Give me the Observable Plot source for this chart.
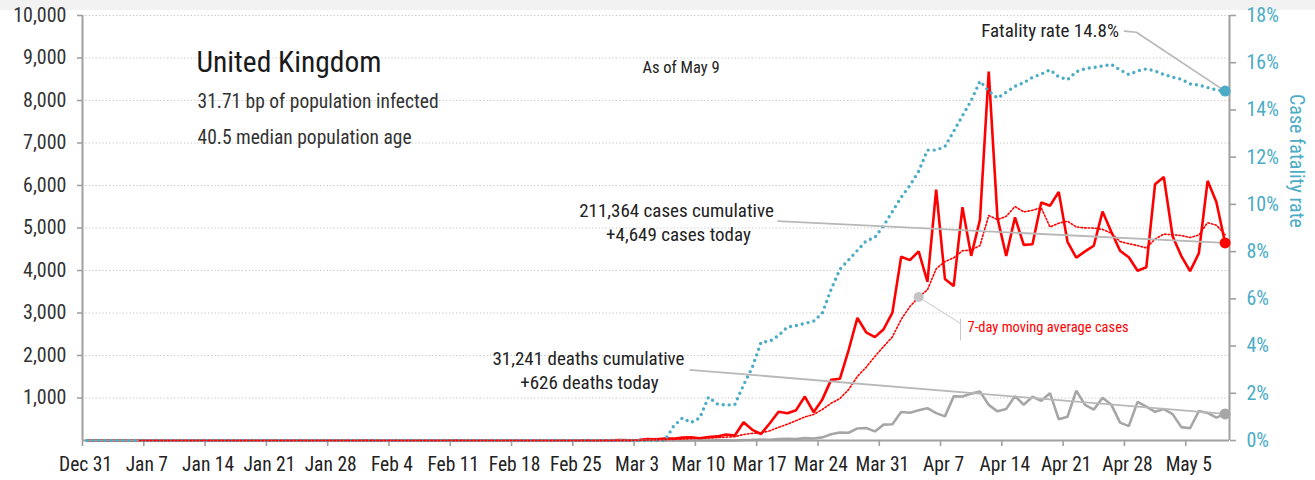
<!DOCTYPE html>
<html>
<head>
<meta charset="utf-8">
<script src="https://cdn.jsdelivr.net/npm/d3@7"></script>
<script src="https://cdn.jsdelivr.net/npm/@observablehq/plot@0.6"></script>
<style>
  html, body { margin: 0; padding: 0; background: #ffffff; }
  #strip { height: 10px; background: #f2f2f2; }
  #chart svg { display: block; overflow: visible; }
</style>
</head>
<body>
<div id="strip"></div>
<div id="chart"></div>
<script>
// ---------------- DATA ----------------
// Daily values, one per day starting Dec 31 2019 (index 0) through May 9 2020 (index 130)
const startDate = "2019-12-31";
const endDate = "2020-05-10";

const cases = [
  0,0,0,0,0,0,0,0,0,0,
  0,0,0,0,0,0,0,0,0,0,
  0,0,0,0,0,0,0,0,0,0,
  0,0,2,0,0,0,0,0,1,0,
  0,0,4,1,0,0,0,0,0,0,
  0,0,0,0,0,0,0,4,0,3,
  3,12,4,11,34,30,48,43,67,75,
  52,83,96,140,118,430,251,152,407,676,
  643,714,1035,665,967,1427,1452,2129,2885,2546,
  2433,2619,3009,4324,4244,4450,3735,5903,3802,3634,
  5491,4344,5195,8681,5233,4342,5252,4603,4617,5599,
  5525,5850,4676,4301,4451,4583,5386,4913,4463,4310,
  3996,4076,6032,6201,4806,4339,3985,4406,6111,5614,
  4649
];

// 7-day moving average of cases (as drawn)
const casesAvg = [
  null,null,null,null,null,null,0,0,0,0,
  0,0,0,0,0,0,0,0,0,0,
  0,0,0,0,0,0,0,0,0,0,
  0,0,0.3,0.3,0.3,0.3,0.3,0.3,0.4,0.1,
  0.1,0.1,0.7,0.9,0.7,0.7,0.7,0.7,0.7,0.1,
  0,0,0,0,0,0,0,0.6,0.6,1.0,
  1.4,3.1,3.7,5.3,9.6,13.9,20.3,26,33.9,44,
  49.9,56.9,66.3,79.4,90.1,142,167.1,181.4,227.7,310.6,
  382.4,467.6,554,613.1,729.6,875.3,986.1,1198.4,1508.6,1724.4,
  1977,2213,2439,2849.3,3151.4,3375,3544.9,4040.6,4209.6,4298.9,
  4465.6,4479.9,4586.3,5292.9,5197.1,5274.3,5505.4,5378.6,5417.6,5475.3,
  5024.4,5112.6,5160.3,5024.4,5002.7,4997.9,4967.4,4880,4681.9,4629.6,
  4586,4532.4,4739.4,4855.9,4840.6,4822.9,4776.4,4835,5125.7,5066,
  4844.3
];

const deaths = [
  0,0,0,0,0,0,0,0,0,0,
  0,0,0,0,0,0,0,0,0,0,
  0,0,0,0,0,0,0,0,0,0,
  0,0,0,0,0,0,0,0,0,0,
  0,0,0,0,0,0,0,0,0,0,
  0,0,0,0,0,0,0,0,0,0,
  0,0,0,0,0,0,1,0,1,1,
  3,0,2,2,1,10,14,20,16,33,
  40,33,56,48,74,149,186,183,284,294,
  214,374,382,670,652,714,760,644,568,1038,
  1034,1103,1152,839,686,744,1044,842,1029,935,
  1115,498,559,1172,837,727,1005,843,420,338,
  909,795,674,739,621,315,288,693,649,539,
  626
];

// Case fatality rate, percent (right axis)
const fatalityRate = [
  0,0,0,0,0,0,0,0,0,0,
  0,0,0,0,0,0,0,0,0,0,
  0,0,0,0,0,0,0,0,0,0,
  0,0,0,0,0,0,0,0,0,0,
  0,0,0,0,0,0,0,0,0,0,
  0,0,0,0,0,0,0,0,0,0,
  0,0,0,0,0,0,0,0.6,0.95,0.76,
  0.96,1.84,1.55,1.5,1.52,2.35,3.1,4.16,4.2,4.45,
  4.8,4.87,4.96,5.05,5.4,6.4,7.25,7.65,8.05,8.45,
  8.6,9.1,9.7,10.3,10.8,11.4,12.3,12.3,12.45,13.1,
  13.75,14.4,15.22,14.8,14.5,14.75,15.0,15.15,15.38,15.52,
  15.7,15.4,15.28,15.62,15.75,15.8,15.86,15.93,15.7,15.5,
  15.65,15.74,15.65,15.5,15.39,15.3,15.1,15.05,14.95,14.85,
  14.8
];

// Axis ticks
const leftTicks = [1000,2000,3000,4000,5000,6000,7000,8000,9000,10000];
const rightTicks = [0,2,4,6,8,10,12,14,16,18]; // percent
const xTicks = ["2019-12-31","2020-01-07","2020-01-14","2020-01-21","2020-01-28","2020-02-04",
  "2020-02-11","2020-02-18","2020-02-25","2020-03-03","2020-03-10","2020-03-17","2020-03-24",
  "2020-03-31","2020-04-07","2020-04-14","2020-04-21","2020-04-28","2020-05-05"];

// Texts
const titleText = "United Kingdom";
const subtitleLines = ["31.71 bp of population infected", "40.5 median population age"];
const asOfText = "As of May 9";
const fatalityLabel = "Fatality rate 14.8%";
const casesLabel = ["211,364 cases cumulative", "+4,649 cases today"];
const deathsLabel = ["31,241 deaths cumulative", "+626 deaths today"];
const avgLabel = "7-day moving average cases";
const rightAxisTitle = "Case fatality rate";
const avgAnnotationIndex = 95; // point on the moving-average line that is marked

// ---------------- BUILD ----------------
const DAY = 864e5;
const t0 = new Date(startDate + "T00:00:00Z");
const t1 = new Date(endDate + "T00:00:00Z");
const rows = cases.map((c, i) => ({
  date: new Date(+t0 + i * DAY + DAY / 2),
  cases: c, avg: casesAvg[i], deaths: deaths[i], cfr: fatalityRate[i]
}));
const last = rows[rows.length - 1];
const MAXL = 10000, MAXR = 18;
const toLeft = p => p * MAXL / MAXR;
const tickDates = xTicks.map(s => new Date(s + "T00:00:00Z"));

// annotation anchors (data space)
const at = (day) => new Date(+t0 + day * DAY);
const anno = {
  casesFrom: {x: at(79.38), y: 5160},
  deathsFrom: {x: at(69.33), y: 1664},
  fatalityFrom: [{x: at(119.0), y: toLeft(17.34)}, {x: at(120.36), y: toLeft(17.29)}],
  avgTo: {x: at(100.28), y: 2753},
  avgBar: {x: at(100.28), y1: 2353, y2: 2871}
};

const FONT = "'Roboto Condensed', 'Open Sans', sans-serif";
const RED = "#ff0000", GRAY = "#a6a6a6", BLUE = "#4bacc6", AXIS = "#a0a0a0", LEAD = "#b8b8b8";
const fmtX = d3.utcFormat("%b %-d");

const txt = (s, o) => Plot.text([s], {text: d => d, frameAnchor: "top-left", lineAnchor: "middle", fontFamily: FONT, ...o});

const chart = Plot.plot({
  width: 1315,
  height: 470,
  marginLeft: 82,
  marginRight: 86,
  marginTop: 5,
  marginBottom: 40,
  x: {type: "utc", domain: [t0, t1]},
  y: {domain: [0, MAXL]},
  style: {fontFamily: FONT, background: "#ffffff", overflow: "visible"},
  marks: [
    // gridlines
    Plot.ruleY(leftTicks, {stroke: "#c4c4c4", strokeWidth: 1.2, strokeDasharray: "1.2,2.2"}),
    // data (solid)
    Plot.line(rows, {x: "date", y: "deaths", stroke: GRAY, strokeWidth: 2.6, strokeLinejoin: "miter"}),
    Plot.line(rows, {x: "date", y: "cases", stroke: RED, strokeWidth: 2.6, strokeLinejoin: "miter"}),
    // axis lines
    Plot.ruleY([0], {stroke: AXIS, strokeWidth: 2}),
    Plot.ruleX([t0], {stroke: AXIS, strokeWidth: 2}),
    Plot.ruleX([t1], {stroke: AXIS, strokeWidth: 2}),
    // axes
    Plot.axisY(leftTicks, {anchor: "left", tickSize: 5, tickPadding: 11, tickFormat: d3.format(","),
      stroke: AXIS, strokeWidth: 1.6, fill: "#333", fontSize: 20, fontFamily: FONT, label: null}),
    Plot.axisY(rightTicks.map(toLeft), {anchor: "right", tickSize: 6, tickPadding: 11,
      tickFormat: v => Math.round(v * MAXR / MAXL) + "%",
      stroke: AXIS, strokeWidth: 1.6, fill: BLUE, fontSize: 20, fontFamily: FONT, label: null}),
    Plot.axisX(tickDates, {anchor: "bottom", tickSize: 6, tickFormat: () => "",
      stroke: AXIS, strokeWidth: 1.6, label: null}),
    Plot.axisX(tickDates, {anchor: "bottom", tickSize: 0, tickPadding: 17, dx: 3,
      tickFormat: fmtX, fill: "#222", fontSize: 19.5, fontFamily: FONT, label: null}),
    Plot.text([rightAxisTitle], {text: d => d, frameAnchor: "right", rotate: 90, dx: 67,
      fill: BLUE, fontSize: 20, fontFamily: FONT}),
    // data (dotted)
    Plot.line(rows, {x: "date", y: d => toLeft(d.cfr), stroke: BLUE, strokeWidth: 3.4,
      strokeDasharray: "0,6", strokeLinecap: "round"}),
    Plot.line(rows.filter(d => d.avg != null), {x: "date", y: "avg", stroke: RED, strokeWidth: 1.6,
      strokeDasharray: "1.6,2"}),
    // leader lines
    Plot.link([last], {x1: () => anno.casesFrom.x, y1: () => anno.casesFrom.y, x2: "date", y2: "cases",
      stroke: LEAD, strokeWidth: 1.8}),
    Plot.link([last], {x1: () => anno.deathsFrom.x, y1: () => anno.deathsFrom.y, x2: "date", y2: "deaths",
      stroke: LEAD, strokeWidth: 1.8}),
    Plot.line([...anno.fatalityFrom, {x: last.date, y: toLeft(last.cfr)}], {x: "x", y: "y",
      stroke: LEAD, strokeWidth: 1.6}),
    Plot.link([rows[avgAnnotationIndex]], {x1: "date", y1: "avg", x2: () => anno.avgTo.x, y2: () => anno.avgTo.y,
      stroke: "#c8c8c8", strokeWidth: 1}),
    Plot.link([anno.avgBar], {x1: "x", x2: "x", y1: "y1", y2: "y2", stroke: "#c8c8c8", strokeWidth: 1}),
    // dots
    Plot.dot([rows[avgAnnotationIndex]], {x: "date", y: "avg", r: 5, fill: "#c4c4c4"}),
    Plot.dot([last], {x: "date", y: "deaths", r: 5.5, fill: GRAY}),
    Plot.dot([last], {x: "date", y: "cases", r: 5.5, fill: RED}),
    Plot.dot([last], {x: "date", y: d => toLeft(d.cfr), r: 5.5, fill: BLUE}),
    // texts
    txt(titleText, {dx: 114, dy: 47, fontSize: 29.5, fill: "#1a1a1a", textAnchor: "start"}),
    txt(subtitleLines[0], {dx: 115, dy: 86.5, fontSize: 19.5, fill: "#333", textAnchor: "start"}),
    txt(subtitleLines[1], {dx: 115, dy: 122.5, fontSize: 19.5, fill: "#333", textAnchor: "start"}),
    txt(asOfText, {dx: 560, dy: 52, fontSize: 16.5, fill: "#222", textAnchor: "start"}),
    txt(fatalityLabel, {dx: 1036.5, dy: 15, fontSize: 19, fill: "#222", textAnchor: "end"}),
    txt(casesLabel[0], {dx: 594, dy: 195, fontSize: 19, fill: "#222", textAnchor: "middle"}),
    txt(casesLabel[1], {dx: 596, dy: 219, fontSize: 19, fill: "#222", textAnchor: "middle"}),
    txt(deathsLabel[0], {dx: 506, dy: 343.5, fontSize: 19, fill: "#222", textAnchor: "middle"}),
    txt(deathsLabel[1], {dx: 507, dy: 367, fontSize: 19, fill: "#222", textAnchor: "middle"}),
    txt(avgLabel, {dx: 885, dy: 312, fontSize: 14.5, fill: RED, textAnchor: "start"})
  ]
});
document.getElementById("chart").appendChild(chart);
</script>
</body>
</html>
